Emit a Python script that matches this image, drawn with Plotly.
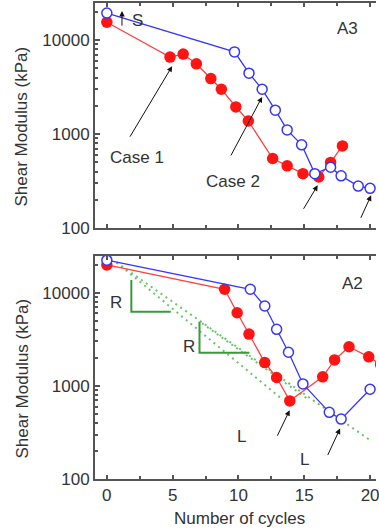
import plotly.graph_objects as go

# ---------------- data ----------------
a3_case1_x = [0, 4.8, 5.8, 6.8, 7.9, 8.7, 9.8, 10.75, 12.6, 13.7, 14.9, 16.1, 17.0, 17.9]
a3_case1_y = [15500, 6600, 7100, 5600, 3900, 3000, 1950, 1380, 550, 460, 380, 350, 500, 750]
a3_case2_x = [0, 9.7, 10.8, 11.8, 12.8, 13.7, 14.8, 15.8, 17.0, 17.8, 19.1, 20.0]
a3_case2_y = [19400, 7500, 4450, 3000, 1800, 1110, 770, 380, 445, 360, 280, 265]

a2_case1_x = [0, 8.95, 9.9, 10.8, 12.0, 12.9, 13.9, 16.4, 17.3, 18.4, 19.9, 20.8]
a2_case1_y = [19900, 10900, 6100, 3600, 1780, 1230, 690, 1250, 1900, 2630, 2050, 1700]
a2_case2_x = [0, 10.9, 12.0, 12.9, 13.8, 14.9, 16.9, 17.8, 20.0]
a2_case2_y = [22400, 10900, 7200, 4050, 2300, 1050, 520, 440, 920]

# green guide lines (bottom panel)
g1_x = [0.73, 20.0]
g1_y = [21200, 261]
g2_x = [0.73, 13.26]
g2_y = [21200, 731]
g3_x = [7.24, 15.39]
g3_y = [4690, 702]
t1_x = [1.86, 1.86, 4.86]
t1_y = [13700, 6250, 6250]
t2_x = [7.04, 7.04, 10.83]
t2_y = [4870, 2265, 2265]

x_ticks = [0, 5, 10, 15, 20]
x_minor = [2.5, 7.5, 12.5, 17.5]
y_ticks = [100, 1000, 10000]
y_tick_text = ["100", "1000", "10000"]
y_minor = [m * 10 ** e for e in (2, 3, 4) for m in range(2, 10)]

RED = "#ff1414"
RED_LINE = "#ff4040"
BLUE = "#3535ff"
GREEN_DOT = "#6cc46c"
GREEN = "#3a9a3a"
FONT = "Liberation Sans, Arial, sans-serif"
TXT = "#333333"
AX = "#555555"

fig = go.Figure()


def add_pair(xr, yr, xb, yb, xa, ya):
    fig.add_trace(go.Scatter(x=xr, y=yr, mode="lines+markers", xaxis=xa, yaxis=ya,
                             line=dict(color=RED_LINE, width=1.3),
                             marker=dict(color=RED, size=11.5, line=dict(width=0))))
    fig.add_trace(go.Scatter(x=xb, y=yb, mode="lines+markers", xaxis=xa, yaxis=ya,
                             line=dict(color=BLUE, width=1.3),
                             marker=dict(color="white", size=10, line=dict(color=BLUE, width=1.5))))


# bottom panel guides first (under data)
for gx, gy in [(g1_x, g1_y), (g2_x, g2_y), (g3_x, g3_y)]:
    fig.add_trace(go.Scatter(x=gx, y=gy, mode="lines", xaxis="x2", yaxis="y2",
                             line=dict(color=GREEN_DOT, width=2, dash="2px,4px")))
for tx, ty in [(t1_x, t1_y), (t2_x, t2_y)]:
    fig.add_trace(go.Scatter(x=tx, y=ty, mode="lines", xaxis="x2", yaxis="y2",
                             line=dict(color=GREEN, width=2)))

add_pair(a3_case1_x, a3_case1_y, a3_case2_x, a3_case2_y, "x", "y")
add_pair(a2_case1_x, a2_case1_y, a2_case2_x, a2_case2_y, "x2", "y2")

xcommon = dict(range=[-0.9, 20.45], tickmode="array", tickvals=x_ticks,
               ticks="inside", ticklen=4, tickwidth=1.5, tickcolor=AX,
               showline=True, linecolor=AX, linewidth=2, mirror="ticks",
               showgrid=False, zeroline=False, ticklabeloverflow="allow",
               minor=dict(tickmode="array", tickvals=x_minor, ticks="inside",
                          ticklen=3, tickcolor=AX, showgrid=False),
               tickfont=dict(family=FONT, size=17, color=TXT))
ycommon = dict(type="log", range=[2, 4.395], tickmode="array", tickvals=y_ticks,
               ticktext=y_tick_text, ticks="inside", ticklen=5, tickwidth=1.5,
               tickcolor=AX, showline=True, linecolor=AX, linewidth=2, mirror=False,
               showgrid=False, zeroline=False,
               minor=dict(tickmode="array", tickvals=y_minor, ticks="inside",
                          ticklen=3, tickcolor=AX, showgrid=False),
               tickfont=dict(family=FONT, size=17, color=TXT))

fig.update_layout(
    width=379, height=530, margin=dict(l=95, r=0, t=3, b=51),
    plot_bgcolor="white", paper_bgcolor="white", showlegend=False,
    xaxis=dict(**xcommon, anchor="y", showticklabels=False),
    yaxis=dict(**ycommon, anchor="x", domain=[0.527, 1.0]),
    xaxis2=dict(**xcommon, anchor="y2", showticklabels=True),
    yaxis2=dict(**ycommon, anchor="x2", domain=[0.0, 0.4685]),
)

tf = dict(family=FONT, size=17, color=TXT)
anns = []


def text(x, y, s, xref="x", yref="y", **kw):
    d = dict(x=x, y=y, text=s, xref=xref, yref=yref, showarrow=False, font=tf,
             xanchor="center", yanchor="middle")
    d.update(kw)
    anns.append(d)


def arrow(x, y, ax, ay, xref="x", yref="y"):
    anns.append(dict(x=x, y=y, ax=ax, ay=ay, xref=xref, yref=yref, text="",
                     showarrow=True, arrowhead=2, arrowsize=1.1, arrowwidth=1,
                     arrowcolor="#111111", standoff=0))


# top panel (A3) -- y in log10 units
text(18.27, 4.128, "A3")
text(2.3, 4.206, "S")
arrow(1.15, 4.309, 0, 16)
text(2.29, 2.754, "Case 1")
arrow(4.96, 3.723, -43, 72)
text(9.55, 2.498, "Case 2")
arrow(11.8, 3.396, -32, 60)
arrow(16.02, 2.456, -15, 25)
arrow(20.08, 2.349, -11, 24)

# bottom panel (A2)
text(18.65, 4.101, "A2", "x2", "y2")
text(0.73, 3.90, "R", "x2", "y2")
text(6.24, 3.419, "R", "x2", "y2")
text(10.25, 2.452, "L", "x2", "y2")
arrow(13.89, 2.739, -13, 27, "x2", "y2")
text(15.02, 2.209, "L", "x2", "y2")
arrow(17.72, 2.542, -13, 28, "x2", "y2")

# axis titles
for yc in [0.527 + (1 - 0.527) / 2, 0.4685 / 2]:
    anns.append(dict(x=0, y=yc, xref="paper", yref="paper", xshift=-73, yshift=-11,
                     text="Shear Modulus (kPa)", textangle=-90, showarrow=False,
                     font=tf, xanchor="center", yanchor="middle"))
anns.append(dict(x=10.06, y=0, xref="x2", yref="paper", yshift=-39,
                 text="Number of cycles", showarrow=False, font=tf,
                 xanchor="center", yanchor="middle"))

fig.update_layout(annotations=anns)
fig.write_html("out.html")
